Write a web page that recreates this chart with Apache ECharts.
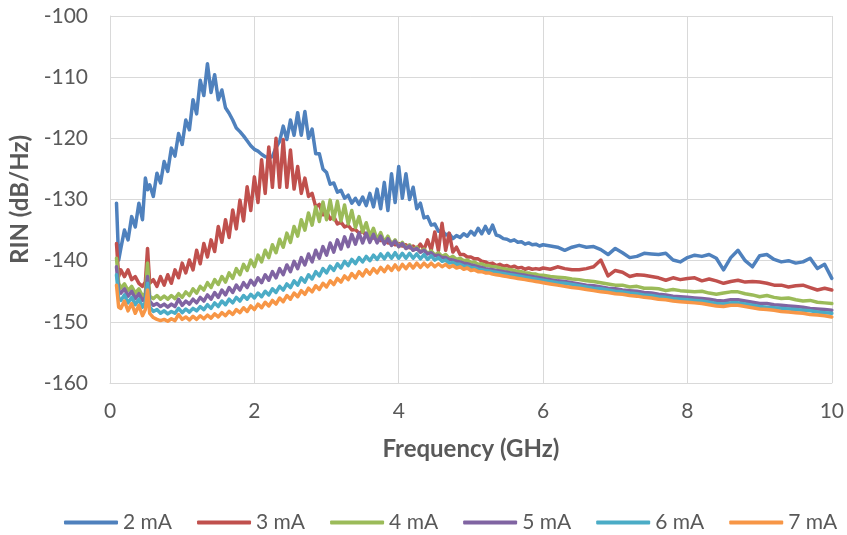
<!DOCTYPE html>
<html>
<head>
<meta charset="utf-8">
<script src="https://cdn.jsdelivr.net/npm/echarts@6/dist/echarts.min.js"></script>
<style>
  html, body { margin: 0; padding: 0; background: #ffffff; }
  #chart { width: 847px; height: 535px; }
</style>
</head>
<body>
<div id="chart"></div>
<script>
// Frequency grid (GHz) shared by all traces
const freqGHz = [0.09,0.12,0.15,0.2,0.25,0.3,0.35,0.4,0.45,0.49,0.52,0.55,
  0.6,0.65,0.7,0.75,0.8,0.85,0.9,0.95,1,1.05,1.1,1.15,1.2,1.25,1.3,1.35,1.4,1.45,
  1.5,1.55,1.6,1.65,1.7,1.75,1.8,1.85,1.9,1.95,2,2.05,2.1,2.15,2.2,2.25,2.3,2.35,2.4,2.45,
  2.5,2.55,2.6,2.65,2.7,2.75,2.8,2.85,2.9,2.95,3,3.05,3.1,3.15,3.2,3.25,3.3,3.35,3.4,3.45,
  3.5,3.55,3.6,3.65,3.7,3.75,3.8,3.85,3.9,3.95,4,4.05,4.1,4.15,4.2,4.25,4.3,4.35,4.4,4.45,
  4.5,4.55,4.6,4.65,4.7,4.75,4.8,4.85,4.9,4.95,5,5.05,5.1,5.15,5.2,5.25,5.3,5.35,5.4,5.45,
  5.5,5.55,5.6,5.65,5.7,5.75,5.8,5.85,5.9,5.95,6,
  6.1,6.2,6.3,6.4,6.5,6.6,6.7,6.8,6.9,7,7.1,7.2,7.3,7.4,7.5,7.6,7.7,7.8,7.9,8,
  8.1,8.2,8.3,8.4,8.5,8.6,8.7,8.8,8.9,9,9.1,9.2,9.3,9.4,9.5,9.6,9.7,9.8,9.9,10];

// RIN in dB/Hz for each bias current
const rin2mA = [-130.6,-139.9,-138.0,-135.0,-136.6,-132.8,-134.5,-130.6,-133.3,-126.5,-128.4,-127.6,
  -129.5,-125.7,-127.3,-123.8,-125.4,-121.6,-122.9,-119.2,-121.0,-117.0,-118.6,-113.7,-116.0,-110.5,-113.0,-107.8,-112.5,-109.6,
  -113.7,-112.1,-115.0,-115.9,-117.0,-118.3,-118.9,-119.6,-120.4,-121.2,-121.8,-122.1,-122.6,-123.0,-123.2,-123.0,-121.5,-120.5,-118.0,-120.2,
  -117.0,-119.5,-115.8,-119.5,-115.6,-120.0,-118.5,-122.5,-122.5,-125.0,-125.6,-127.5,-127.3,-128.8,-128.5,-129.8,-129.3,-130.6,-129.8,-130.8,
  -129.6,-131.0,-129.0,-131.2,-128.3,-131.5,-127.2,-131.8,-125.8,-130.5,-124.6,-129.8,-125.8,-130.0,-128.0,-131.5,-130.6,-133.0,-132.8,-134.2,
  -134.0,-135.2,-135.0,-135.8,-135.6,-136.4,-135.9,-136.2,-135.6,-136.0,-135.2,-135.8,-134.7,-135.6,-134.4,-135.5,-134.2,-135.8,-136.0,-136.4,
  -136.5,-136.8,-136.6,-137.0,-136.9,-137.3,-137.1,-137.4,-137.3,-137.6,-137.4,
  -137.6,-137.8,-138.3,-137.8,-137.5,-137.8,-137.7,-138.2,-139.0,-138.0,-138.7,-139.5,-139.3,-138.8,-138.9,-139.0,-138.8,-139.9,-140.2,-139.5,
  -139.1,-139.3,-139.0,-139.6,-141.5,-139.5,-138.3,-140.0,-141.0,-139.2,-139.0,-139.8,-140.2,-140.0,-140.4,-140.2,-139.6,-141.3,-140.6,-142.9];

const rin3mA = [-137.2,-142.6,-141.5,-142.6,-141.5,-143.1,-142.6,-143.7,-144.2,-143.5,-138.0,-143.7,
  -143.1,-144.2,-142.6,-144.0,-142.3,-143.7,-141.5,-142.8,-140.4,-142.0,-139.9,-141.5,-138.3,-140.5,-137.2,-139.4,-136.6,-138.5,
  -134.4,-137.0,-133.3,-136.2,-131.7,-134.8,-130.1,-133.5,-127.9,-131.8,-126.3,-130.5,-123.5,-129.0,-121.4,-128.0,-120.0,-128.0,-120.2,-128.0,
  -121.9,-128.3,-124.6,-129.0,-126.5,-129.5,-129.0,-131.2,-130.8,-132.5,-132.0,-133.2,-132.8,-134.0,-133.7,-134.5,-134.2,-135.0,-134.9,-135.5,
  -135.2,-135.9,-135.7,-136.3,-136.1,-136.7,-136.6,-137.1,-137.0,-137.4,-137.2,-137.6,-137.4,-137.9,-137.6,-138.1,-137.3,-138.2,-136.6,-138.3,
  -135.3,-138.4,-133.9,-138.3,-135.5,-138.6,-137.8,-139.0,-139.0,-139.4,-139.4,-139.7,-139.7,-140.1,-140.2,-140.5,-140.4,-140.8,-140.6,-140.9,
  -140.8,-141.1,-140.9,-141.2,-141.1,-141.4,-141.2,-141.4,-141.3,-141.4,-141.2,
  -141.4,-141.0,-141.3,-141.5,-141.5,-141.3,-141.0,-139.9,-142.5,-141.6,-141.9,-142.6,-142.3,-142.4,-142.6,-142.8,-143.2,-142.8,-143.1,-142.9,
  -142.8,-143.3,-143.0,-143.3,-143.7,-143.4,-143.2,-143.5,-143.4,-143.5,-143.7,-144.0,-144.0,-144.3,-144.1,-144.0,-144.4,-144.8,-144.5,-144.8];

const rin4mA = [-139.6,-143.7,-144.5,-143.8,-144.9,-144.2,-145.3,-144.6,-145.8,-145.3,-140.4,-145.8,
  -146.2,-145.7,-146.3,-145.8,-146.3,-145.7,-146.2,-145.4,-146.0,-145.1,-145.7,-144.6,-145.3,-144.2,-144.8,-143.6,-144.4,-143.1,
  -143.9,-142.6,-143.5,-142.0,-142.9,-141.3,-142.3,-140.6,-141.6,-139.9,-141.0,-139.1,-140.2,-138.3,-139.5,-137.4,-138.7,-136.5,-137.8,-135.5,
  -137.0,-134.4,-136.0,-133.3,-135.0,-132.2,-134.2,-131.2,-133.6,-130.4,-133.3,-130.1,-133.3,-130.3,-133.5,-130.9,-134.0,-131.8,-134.6,-132.8,
  -135.3,-133.8,-136.0,-134.7,-136.6,-135.4,-137.0,-136.0,-137.4,-136.6,-137.7,-137.0,-138.0,-137.4,-138.3,-137.8,-138.6,-138.1,-138.8,-138.4,
  -139.1,-138.7,-139.3,-139.0,-139.6,-139.3,-139.8,-139.6,-140.0,-139.9,-140.3,-140.2,-140.6,-140.5,-140.8,-140.8,-141.0,-141.0,-141.2,-141.3,
  -141.4,-141.5,-141.6,-141.8,-141.8,-142.0,-142.0,-142.2,-142.2,-142.4,-142.4,
  -142.6,-142.7,-142.8,-143.0,-143.1,-143.3,-143.4,-143.6,-143.8,-144.0,-144.0,-144.3,-144.2,-144.5,-144.5,-144.6,-144.9,-144.7,-144.9,-145.0,
  -145.1,-145.0,-145.3,-145.5,-145.3,-145.1,-145.1,-145.4,-145.6,-145.9,-145.7,-146.0,-146.2,-146.1,-146.4,-146.6,-146.5,-146.8,-146.9,-147.0];

const rin5mA = [-141.0,-144.9,-145.3,-144.6,-145.8,-145.0,-146.2,-145.4,-146.5,-146.0,-142.6,-146.6,
  -147.3,-147.0,-147.5,-147.1,-147.6,-147.1,-147.5,-146.3,-147.3,-146.6,-147.1,-146.3,-146.9,-146.0,-146.6,-145.6,-146.3,-145.2,
  -146.0,-144.8,-145.6,-144.4,-145.2,-144.0,-144.8,-143.6,-144.4,-143.2,-144.0,-142.8,-143.6,-142.3,-143.2,-141.8,-142.8,-141.3,-142.3,-140.7,
  -141.8,-140.1,-141.3,-139.5,-140.7,-138.9,-140.2,-138.3,-139.6,-137.7,-139.1,-137.1,-138.6,-136.6,-138.1,-136.1,-137.7,-135.7,-137.3,-135.5,
  -137.1,-135.5,-137.0,-135.7,-137.1,-136.0,-137.3,-136.4,-137.5,-136.8,-137.7,-137.2,-138.0,-137.6,-138.3,-138.0,-138.6,-138.3,-138.9,-138.7,
  -139.2,-139.1,-139.5,-139.5,-139.8,-139.9,-140.1,-140.2,-140.4,-140.5,-140.7,-140.8,-141.0,-141.1,-141.3,-141.4,-141.5,-141.6,-141.7,-141.8,
  -141.9,-142.0,-142.1,-142.2,-142.3,-142.4,-142.5,-142.6,-142.7,-142.8,-142.9,
  -143.1,-143.3,-143.4,-143.6,-143.8,-144.0,-144.1,-144.3,-144.5,-144.6,-144.8,-144.9,-145.0,-145.2,-145.3,-145.5,-145.6,-145.8,-145.9,-146.0,
  -146.1,-146.2,-146.3,-146.5,-146.6,-146.4,-146.4,-146.6,-146.8,-147.0,-147.0,-147.2,-147.3,-147.4,-147.5,-147.6,-147.8,-147.9,-148.0,-148.1];

const rin6mA = [-142.3,-146.1,-146.5,-145.6,-146.9,-146.0,-147.2,-146.3,-147.6,-146.8,-143.7,-147.6,
  -148.3,-148.0,-148.6,-148.2,-148.7,-148.3,-148.6,-147.8,-148.5,-147.9,-148.4,-147.8,-148.2,-147.5,-148.0,-147.2,-147.8,-146.9,
  -147.5,-146.6,-147.2,-146.3,-146.9,-146.0,-146.6,-145.7,-146.3,-145.5,-146.1,-145.3,-145.9,-145.0,-145.6,-144.6,-145.2,-144.2,-144.8,-143.8,
  -144.4,-143.3,-144.0,-142.8,-143.5,-142.3,-143.0,-141.8,-142.5,-141.3,-142.0,-140.9,-141.6,-140.5,-141.2,-140.1,-140.8,-139.8,-140.5,-139.5,
  -140.2,-139.3,-140.0,-139.1,-139.8,-138.9,-139.7,-138.8,-139.6,-138.7,-139.6,-138.8,-139.6,-138.8,-139.6,-138.9,-139.7,-139.0,-139.8,-139.2,
  -139.9,-139.5,-140.1,-139.9,-140.4,-140.3,-140.6,-140.6,-140.9,-140.9,-141.1,-141.2,-141.4,-141.5,-141.6,-141.7,-141.8,-141.9,-142.0,-142.1,
  -142.2,-142.3,-142.4,-142.5,-142.6,-142.7,-142.8,-142.9,-143.0,-143.1,-143.2,
  -143.4,-143.6,-143.7,-143.9,-144.1,-144.3,-144.5,-144.6,-144.8,-145.0,-145.1,-145.3,-145.4,-145.6,-145.7,-145.9,-146.0,-146.2,-146.3,-146.4,
  -146.5,-146.6,-146.8,-147.0,-147.1,-146.9,-146.9,-147.1,-147.3,-147.5,-147.6,-147.7,-147.8,-147.9,-148.0,-148.1,-148.2,-148.4,-148.5,-148.6];

const rin7mA = [-144.0,-147.6,-147.8,-146.6,-148.2,-147.0,-148.6,-147.3,-149.0,-148.0,-144.8,-148.6,
  -149.3,-149.6,-149.8,-149.6,-149.9,-149.5,-149.8,-148.8,-149.6,-149.2,-149.7,-149.1,-149.6,-149.0,-149.5,-148.9,-149.4,-148.7,
  -149.2,-148.5,-149.0,-148.3,-148.8,-148.0,-148.5,-147.7,-148.3,-147.4,-148.0,-147.1,-147.7,-146.8,-147.4,-146.5,-147.1,-146.1,-146.7,-145.7,
  -146.3,-145.3,-145.9,-144.9,-145.5,-144.5,-145.1,-144.1,-144.7,-143.7,-144.3,-143.3,-143.9,-142.9,-143.5,-142.5,-143.1,-142.1,-142.8,-141.8,
  -142.5,-141.5,-142.2,-141.3,-142.0,-141.1,-141.8,-140.9,-141.6,-140.7,-141.5,-140.6,-141.3,-140.5,-141.2,-140.4,-141.1,-140.4,-141.0,-140.4,
  -141.0,-140.5,-141.0,-140.6,-141.1,-140.8,-141.2,-141.0,-141.4,-141.2,-141.6,-141.5,-141.8,-141.8,-142.0,-142.0,-142.2,-142.3,-142.4,-142.5,
  -142.6,-142.7,-142.8,-142.9,-143.0,-143.1,-143.2,-143.3,-143.4,-143.5,-143.6,
  -143.8,-144.0,-144.2,-144.4,-144.5,-144.7,-144.9,-145.1,-145.2,-145.4,-145.5,-145.7,-145.8,-146.0,-146.1,-146.3,-146.4,-146.6,-146.7,-146.8,
  -146.9,-147.0,-147.2,-147.4,-147.5,-147.3,-147.3,-147.5,-147.7,-147.9,-148.0,-148.1,-148.3,-148.4,-148.5,-148.6,-148.8,-148.9,-149.0,-149.2];

const seriesNames = ['2 mA', '3 mA', '4 mA', '5 mA', '6 mA', '7 mA'];
const seriesValues = [rin2mA, rin3mA, rin4mA, rin5mA, rin6mA, rin7mA];
const seriesColors = ['#4F81BD', '#C0504D', '#9BBB59', '#8064A2', '#4BACC6', '#F79646'];

const fontFamily = 'Lato, "Noto Sans", sans-serif';
const textGrey = '#595959';
const gridGrey = '#d9d9d9';

const chart = echarts.init(document.getElementById('chart'), null, { renderer: 'canvas' });

chart.setOption({
  backgroundColor: '#ffffff',
  animation: false,
  grid: { left: 110, right: 14, top: 16, bottom: 152, containLabel: false },
  legend: {
    data: seriesNames,
    left: 64,
    top: 512,
    width: 800,
    padding: 0,
    icon: 'roundRect',
    itemWidth: 54,
    itemHeight: 4,
    itemGap: 25,
    textStyle: { color: textGrey, fontSize: 21, fontFamily: fontFamily }
  },
  xAxis: {
    type: 'value',
    min: 0,
    max: 10,
    interval: 2,
    name: 'Frequency (GHz)',
    nameLocation: 'middle',
    nameGap: 54,
    nameTextStyle: { color: textGrey, fontSize: 24, fontWeight: 'bold', fontFamily: fontFamily },
    axisLine: { show: true, lineStyle: { color: gridGrey, width: 1 } },
    axisTick: { show: false },
    axisLabel: { color: textGrey, fontSize: 21, fontFamily: fontFamily, margin: 18 },
    splitLine: { show: true, lineStyle: { color: gridGrey, width: 1 } }
  },
  yAxis: {
    type: 'value',
    min: -160,
    max: -100,
    interval: 10,
    name: 'RIN (dB/Hz)',
    nameLocation: 'middle',
    nameGap: 74,
    nameRotate: 90,
    nameTextStyle: { color: textGrey, fontSize: 24, fontWeight: 'bold', fontFamily: fontFamily },
    axisLine: { show: true, lineStyle: { color: gridGrey, width: 1 } },
    axisTick: { show: false },
    axisLabel: { color: textGrey, fontSize: 21, fontFamily: fontFamily, margin: 22 },
    splitLine: { show: true, lineStyle: { color: gridGrey, width: 1 } }
  },
  series: seriesNames.map((name, i) => ({
    name: name,
    type: 'line',
    showSymbol: false,
    symbol: 'none',
    smooth: false,
    color: seriesColors[i],
    lineStyle: { width: 3.5, color: seriesColors[i], cap: 'round', join: 'round' },
    data: freqGHz.map((f, k) => [f, seriesValues[i][k]])
  }))
});
</script>
</body>
</html>
